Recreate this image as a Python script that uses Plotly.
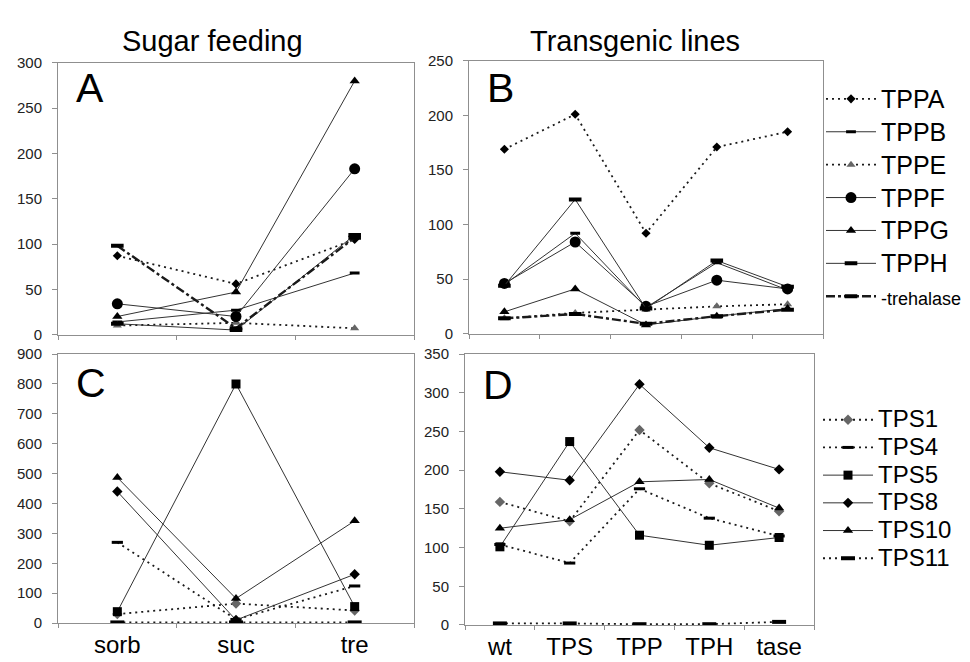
import plotly.graph_objects as go

W, H = 970, 662

sugar_cats = ["sorb", "suc", "tre"]
line_cats = ["wt", "TPS", "TPP", "TPH", "tase"]

tpp_names = ["TPPA", "TPPB", "TPPE", "TPPF", "TPPG", "TPPH", "trehalase"]
tps_names = ["TPS1", "TPS4", "TPS5", "TPS8", "TPS10", "TPS11"]

# Panel A: sugar feeding, TPP genes
A_TPPA = [87, 56, 105]
A_TPPB = [14, 27, 68]
A_TPPE = [10, 13, 7]
A_TPPF = [34, 20, 183]
A_TPPG = [20, 47, 280]
A_TPPH = [12, 5, 110]
A_trehalase = [98, 7, 107]

# Panel B: transgenic lines, TPP genes
B_TPPA = [169, 201, 92, 171, 185]
B_TPPB = [45, 92, 24, 65, 40]
B_TPPE = [14, 19, 22, 25, 27]
B_TPPF = [46, 84, 25, 49, 41]
B_TPPG = [20, 41, 8, 16, 23]
B_TPPH = [44, 123, 23, 67, 43]
B_trehalase = [14, 18, 9, 16, 22]

# Panel C: sugar feeding, TPS genes
C_TPS1 = [30, 65, 42]
C_TPS4 = [270, 12, 124]
C_TPS5 = [38, 800, 55]
C_TPS8 = [440, 10, 163]
C_TPS10 = [487, 82, 342]
C_TPS11 = [2, 2, 2]

# Panel D: transgenic lines, TPS genes
D_TPS1 = [159, 134, 252, 183, 147]
D_TPS4 = [104, 80, 176, 138, 115]
D_TPS5 = [101, 237, 116, 103, 113]
D_TPS8 = [198, 187, 311, 229, 201]
D_TPS10 = [125, 136, 185, 188, 151]
D_TPS11 = [2, 2, 1, 1, 4]

A_vals = [A_TPPA, A_TPPB, A_TPPE, A_TPPF, A_TPPG, A_TPPH, A_trehalase]
B_vals = [B_TPPA, B_TPPB, B_TPPE, B_TPPF, B_TPPG, B_TPPH, B_trehalase]
C_vals = [C_TPS1, C_TPS4, C_TPS5, C_TPS8, C_TPS10, C_TPS11]
D_vals = [D_TPS1, D_TPS4, D_TPS5, D_TPS8, D_TPS10, D_TPS11]

FONT = "Liberation Sans, Arial, sans-serif"
LC = "#333333"
DOT = "2px,4px"

styles = {
    "TPPA": dict(dash=DOT, w=1.8, sym="diamond", size=7, mc="black"),
    "TPPB": dict(dash="solid", w=1.0, sym="line-ew", size=7, mc="black", mw=3),
    "TPPE": dict(dash=DOT, w=1.8, sym="triangle-up", size=8, mc="#666666"),
    "TPPF": dict(dash="solid", w=1.0, sym="circle", size=11, mc="black"),
    "TPPG": dict(dash="solid", w=1.0, sym="triangle-up", size=9, mc="black"),
    "TPPH": dict(dash="solid", w=1.0, sym="line-ew", size=9, mc="black", mw=4),
    "trehalase": dict(dash="9px,3px,3px,3px", w=2.4, sym="line-ew", size=9, mc="black", mw=4),
    "TPS1": dict(dash=DOT, w=1.8, sym="diamond", size=8, mc="#666666"),
    "TPS4": dict(dash=DOT, w=1.8, sym="line-ew", size=8, mc="black", mw=3),
    "TPS5": dict(dash="solid", w=1.0, sym="square", size=9, mc="black"),
    "TPS8": dict(dash="solid", w=1.0, sym="diamond", size=8, mc="black"),
    "TPS10": dict(dash="solid", w=1.0, sym="triangle-up", size=9, mc="black"),
    "TPS11": dict(dash=DOT, w=1.8, sym="line-ew", size=10, mc="black", mw=4),
}

fig = go.Figure()


def add_panel(cats, names, vals, xa, ya, legend, show, fs):
    for n, v in zip(names, vals):
        s = styles[n]
        marker = dict(symbol=s["sym"], size=s["size"], color=s["mc"])
        if s["sym"].startswith("line"):
            marker["line"] = dict(color=s["mc"], width=s.get("mw", 3))
        label = n if n != "trehalase" else "-trehalase"
        lsize = fs if n != "trehalase" else 18
        fig.add_trace(go.Scatter(
            x=cats, y=v, mode="lines+markers",
            name=f"<span style='font-size:{lsize}px'>{label}</span>",
            line=dict(color="#1a1a1a" if s["dash"] != "solid" else LC, width=s["w"], dash=s["dash"]),
            marker=marker, xaxis=xa, yaxis=ya, legend=legend, showlegend=show,
        ))


add_panel(sugar_cats, tpp_names, A_vals, "x", "y", "legend", False, 25)
add_panel(line_cats, tpp_names, B_vals, "x2", "y2", "legend", True, 25)
add_panel(sugar_cats, tps_names, C_vals, "x3", "y3", "legend2", False, 24)
add_panel(line_cats, tps_names, D_vals, "x4", "y4", "legend2", True, 24)


def px_x(x0, x1):
    return [x0 / W, x1 / W]


def px_y(top, bottom):
    return [1 - bottom / H, 1 - top / H]


axis_common = dict(showline=True, linecolor="#8f8f8f", linewidth=1, mirror=True,
                   showgrid=False, zeroline=False, ticks="outside", tickcolor="#8f8f8f",
                   ticklen=5, fixedrange=True)

xfont = dict(family=FONT, size=24, color="black")
yfont = dict(family=FONT, size=15, color="#222222")

panels = [
    ("xaxis", "yaxis", (50, 406), (47, 326), 3, 300, 50, False, "y", "x"),
    ("xaxis2", "yaxis2", (461, 815), (45, 325), 5, 250, 50, False, "y2", "x2"),
    ("xaxis3", "yaxis3", (50, 406), (346, 622), 3, 900, 100, True, "y3", "x3"),
    ("xaxis4", "yaxis4", (457, 806), (346, 624), 5, 350, 50, True, "y4", "x4"),
]

lay = {}
for xa, ya, xr, yr, ncat, ymax, dt, showlab, anchy, anchx in panels:
    lay[xa] = dict(axis_common, domain=px_x(*xr), range=[-0.5, ncat - 0.5], type="category",
                   tickson="boundaries", showticklabels=showlab, tickfont=xfont, anchor=anchy,
                   ticklen=4)
    lay[ya] = dict(axis_common, domain=px_y(*yr), range=[0, ymax], dtick=dt, tick0=0,
                   tickfont=yfont, anchor=anchx, ticklabelstandoff=7)

fig.update_layout(**lay)

annotations = []
# Column titles
for txt, cx in [("Sugar feeding", 204), ("Transgenic lines", 627)]:
    annotations.append(dict(text=txt, x=cx / W, y=1 - 25 / H, xref="paper", yref="paper",
                            xanchor="center", yanchor="middle", showarrow=False,
                            font=dict(family=FONT, size=29, color="black")))
# Panel letters
for txt, lx, ly in [("A", 66, 73), ("B", 477, 73), ("C", 66, 376), ("D", 473, 378)]:
    annotations.append(dict(text=txt, x=lx / W, y=1 - ly / H, xref="paper", yref="paper",
                            xanchor="left", yanchor="middle", showarrow=False,
                            font=dict(family=FONT, size=41, color="black")))

fig.update_layout(
    width=W, height=H, autosize=False,
    margin=dict(l=0, r=0, t=0, b=0),
    paper_bgcolor="white", plot_bgcolor="white",
    font=dict(family=FONT, color="black"),
    annotations=annotations,
    legend=dict(x=813 / W, y=1 - 62 / H, xanchor="left", yanchor="top",
                font=dict(family=FONT, size=23, color="black"), itemwidth=50,
                bgcolor="rgba(0,0,0,0)", tracegroupgap=0),
    legend2=dict(x=810 / W, y=1 - 394 / H, xanchor="left", yanchor="top",
                 font=dict(family=FONT, size=19, color="black"), itemwidth=50,
                 bgcolor="rgba(0,0,0,0)", tracegroupgap=0),
)

fig.write_html("out.html")
